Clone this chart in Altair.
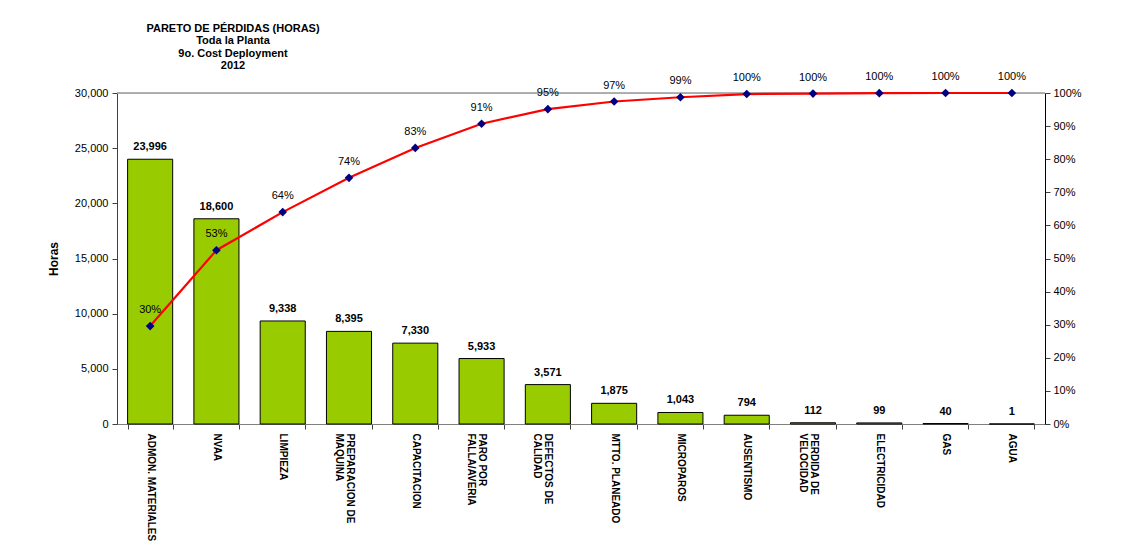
import altair as alt
import pandas as pd

categorias = [
    "ADMON. MATERIALES", "NVAA", "LIMPIEZA", "PREPARACION DE|MAQUINA",
    "CAPACITACION", "PARO POR|FALLA/AVERIA", "DEFECTOS DE|CALIDAD",
    "MTTO. PLANEADO", "MICROPAROS", "AUSENTISMO", "PERDIDA DE|VELOCIDAD",
    "ELECTRICIDAD", "GAS", "AGUA",
]
horas = [23996, 18600, 9338, 8395, 7330, 5933, 3571, 1875, 1043, 794, 112, 99, 40, 1]
orden = list(range(len(categorias)))
ticks_horas = [0, 5000, 10000, 15000, 20000, 25000, 30000]
ticks_pct = [0, 0.1, 0.2, 0.3, 0.4, 0.5, 0.6, 0.7, 0.8, 0.9, 1.0]
titulo = ["PARETO DE PÉRDIDAS (HORAS)", "Toda la Planta", "9o. Cost Deployment", "2012"]

df = pd.DataFrame({"cat": categorias, "horas": horas, "orden": orden})
df_top = pd.DataFrame({"v": [ticks_horas[-1]]})

FONT = "Liberation Sans, Arial, sans-serif"

xaxis = alt.Axis(labelAngle=90, labelAlign="left", labelBaseline="middle",
                 labelExpr="split(datum.label, '|')",
                 labelFontWeight="bold", labelFontSize=10, labelFont=FONT,
                 labelColor="black", labelPadding=4, labelLineHeight=11,
                 tickBand="extent", tickSize=5, tickColor="#404040",
                 domainColor="#808080", labelOverlap=False)
X = alt.X("cat:N", sort=categorias, title=None,
          scale=alt.Scale(paddingInner=0.32, paddingOuter=0.16), axis=xaxis)

yscale = alt.Scale(domain=[0, 30000])
yaxis = alt.Axis(values=ticks_horas, format=",.0f", grid=False,
                 domainColor="#404040",
                 tickColor="#404040", tickSize=5, labelFontSize=11, labelFont=FONT,
                 labelColor="black", labelPadding=4, titleFont=FONT, titleFontSize=12,
                 titleFontWeight="bold", titleColor="black", titlePadding=14)
pscale = alt.Scale(domain=[0, 1])
paxis = alt.Axis(orient="right", format=".0%", values=ticks_pct, grid=False,
                 domainColor="black", tickColor="#404040", tickSize=5,
                 labelFontSize=11, labelFont=FONT, labelColor="black", labelPadding=3)

base = alt.Chart(df).encode(x=X)

top_rule = alt.Chart(df_top).mark_rule(color="#999999", strokeWidth=1.5).encode(
    y=alt.Y("v:Q", scale=yscale, title="Horas", axis=yaxis)
)
bars = base.mark_bar(color="#99CC00", stroke="black", strokeWidth=1).encode(
    y=alt.Y("horas:Q", scale=yscale, title="Horas", axis=yaxis)
)
bar_text = base.mark_text(dy=-12, fontWeight="bold", fontSize=11, font=FONT, color="black").encode(
    y=alt.Y("horas:Q", scale=yscale, title="Horas", axis=yaxis),
    text=alt.Text("horas:Q", format=",")
)
left = alt.layer(top_rule, bars, bar_text)

cum = base.transform_window(
    acum="sum(horas)", sort=[alt.SortField("orden", order="ascending")]
).transform_joinaggregate(total="sum(horas)").transform_calculate(
    pct="datum.acum / datum.total"
)
PY = alt.Y("pct:Q", scale=pscale, title=None, axis=paxis)
line = cum.mark_line(color="#FF0000", strokeWidth=2.2).encode(y=PY)
pts = cum.mark_point(shape="diamond", filled=True, color="#000080", size=75, opacity=1).encode(y=PY)
pct_text = cum.mark_text(dy=-16, fontSize=11, font=FONT, color="black").encode(
    y=PY, text=alt.Text("pct:Q", format=".0%")
)
right = alt.layer(line, pts, pct_text)

chart = alt.layer(left, right).resolve_scale(y="independent").properties(
    width=928, height=331,
    autosize=alt.AutoSizeParams(type="none"),
    padding={"left": 109, "top": 85, "right": 60, "bottom": 130},
    title=alt.TitleParams(text=titulo, anchor="start", frame="group", align="center",
                          dx=116, fontSize=11, fontWeight="bold", font=FONT,
                          color="black", lineHeight=12.5, offset=0),
).configure_view(stroke=None).configure(background="white")

chart.save("out.html", embed_options={"renderer": "svg", "actions": False})
